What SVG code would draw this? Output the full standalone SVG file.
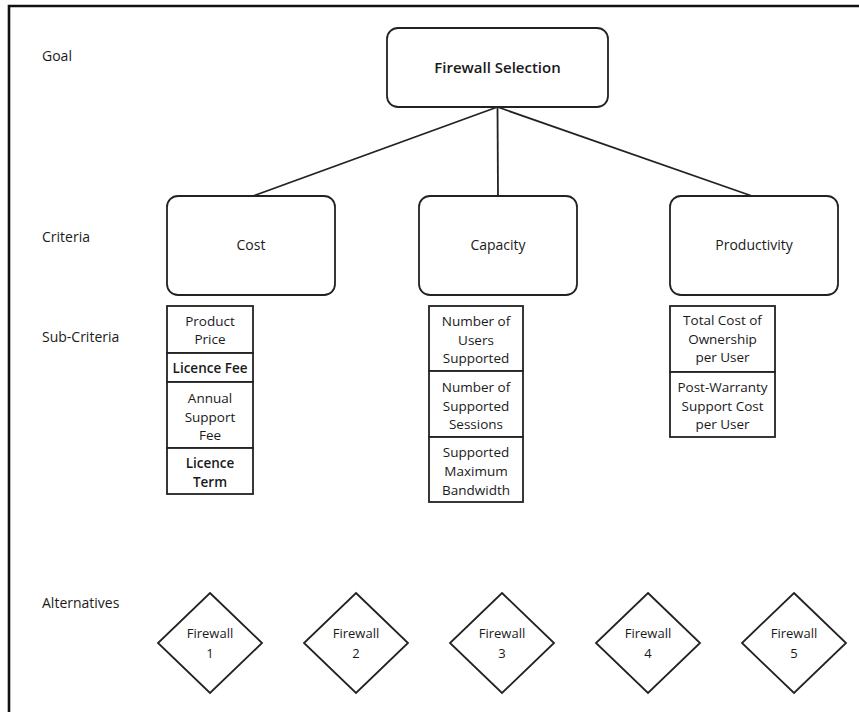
<svg xmlns="http://www.w3.org/2000/svg" width="859" height="712" viewBox="0 0 859 712">
<style>
text{font-family:"Open Sans","Noto Sans","Liberation Sans",sans-serif;fill:#1a1a1a}
.lbl{font-size:14px}
.crit{font-size:14px;text-anchor:middle}
.goal{font-size:15px;font-weight:600;text-anchor:middle}
.sub{font-size:13.5px;text-anchor:middle}
.b{font-weight:600}
.alt{font-size:13px;text-anchor:middle}
.box{fill:#fff;stroke:#222;stroke-width:1.8}
.cell{fill:#fff;stroke:#222;stroke-width:1.8}
.conn{stroke:#222;stroke-width:1.8;fill:none}
</style>
<rect width="859" height="712" fill="#fff"/>
<path d="M9,712 V6 H859" fill="none" stroke="#111" stroke-width="2.6"/>
<g id="labels">
<text class="lbl" x="42" y="61">Goal</text>
<text class="lbl" x="42" y="242">Criteria</text>
<text class="lbl" x="42" y="342">Sub-Criteria</text>
<text class="lbl" x="42" y="608">Alternatives</text>
</g>
<g id="connectors">
<line class="conn" x1="497.5" y1="107" x2="253" y2="196"/>
<line class="conn" x1="497.5" y1="107" x2="498" y2="196"/>
<line class="conn" x1="497.5" y1="107" x2="752" y2="196"/>
</g>
<g id="goal">
<rect class="box" x="387" y="28" width="221" height="79" rx="11"/>
<text class="goal" x="497.5" y="73">Firewall Selection</text>
</g>
<g id="cost">
<rect class="box" x="167" y="196" width="168" height="99" rx="11"/>
<text class="crit" x="251" y="250">Cost</text>
</g>
<g id="capacity">
<rect class="box" x="419" y="196" width="158" height="99" rx="11"/>
<text class="crit" x="498" y="250">Capacity</text>
</g>
<g id="productivity">
<rect class="box" x="670" y="196" width="168" height="99" rx="11"/>
<text class="crit" x="754" y="250">Productivity</text>
</g>
<g id="cost-sub">
<rect class="cell" x="167" y="306" width="86" height="47"/>
<text class="sub" x="210" y="326">Product</text>
<text class="sub" x="210" y="344">Price</text>
<rect class="cell" x="167" y="353" width="86" height="29"/>
<text class="sub b" x="210" y="373">Licence Fee</text>
<rect class="cell" x="167" y="382" width="86" height="66"/>
<text class="sub" x="210" y="403">Annual</text>
<text class="sub" x="210" y="421.5">Support</text>
<text class="sub" x="210" y="440">Fee</text>
<rect class="cell" x="167" y="448" width="86" height="46"/>
<text class="sub b" x="210" y="468">Licence</text>
<text class="sub b" x="210" y="487">Term</text>
</g>
<g id="capacity-sub">
<rect class="cell" x="429" y="306" width="94" height="65"/>
<text class="sub" x="476" y="326">Number of</text>
<text class="sub" x="476" y="344.5">Users</text>
<text class="sub" x="476" y="363">Supported</text>
<rect class="cell" x="429" y="371" width="94" height="66"/>
<text class="sub" x="476" y="392">Number of</text>
<text class="sub" x="476" y="411">Supported</text>
<text class="sub" x="476" y="429">Sessions</text>
<rect class="cell" x="429" y="437" width="94" height="65"/>
<text class="sub" x="476" y="457">Supported</text>
<text class="sub" x="476" y="476">Maximum</text>
<text class="sub" x="476" y="495">Bandwidth</text>
</g>
<g id="productivity-sub">
<rect class="cell" x="670" y="306" width="105" height="66"/>
<text class="sub" x="722.5" y="325">Total Cost of</text>
<text class="sub" x="722.5" y="344">Ownership</text>
<text class="sub" x="722.5" y="362">per User</text>
<rect class="cell" x="670" y="372" width="105" height="65"/>
<text class="sub" x="722.5" y="392">Post-Warranty</text>
<text class="sub" x="722.5" y="411">Support Cost</text>
<text class="sub" x="722.5" y="429">per User</text>
</g>
<g id="fw1">
<polygon class="box" points="210,593 262,643 210,693 158,643"/>
<text class="alt" x="210" y="638">Firewall</text>
<text class="alt" x="210" y="658">1</text>
</g>
<g id="fw2">
<polygon class="box" points="356,593 408,643 356,693 304,643"/>
<text class="alt" x="356" y="638">Firewall</text>
<text class="alt" x="356" y="658">2</text>
</g>
<g id="fw3">
<polygon class="box" points="502,593 554,643 502,693 450,643"/>
<text class="alt" x="502" y="638">Firewall</text>
<text class="alt" x="502" y="658">3</text>
</g>
<g id="fw4">
<polygon class="box" points="648,593 700,643 648,693 596,643"/>
<text class="alt" x="648" y="638">Firewall</text>
<text class="alt" x="648" y="658">4</text>
</g>
<g id="fw5">
<polygon class="box" points="794,593 846,643 794,693 742,643"/>
<text class="alt" x="794" y="638">Firewall</text>
<text class="alt" x="794" y="658">5</text>
</g>
</svg>
